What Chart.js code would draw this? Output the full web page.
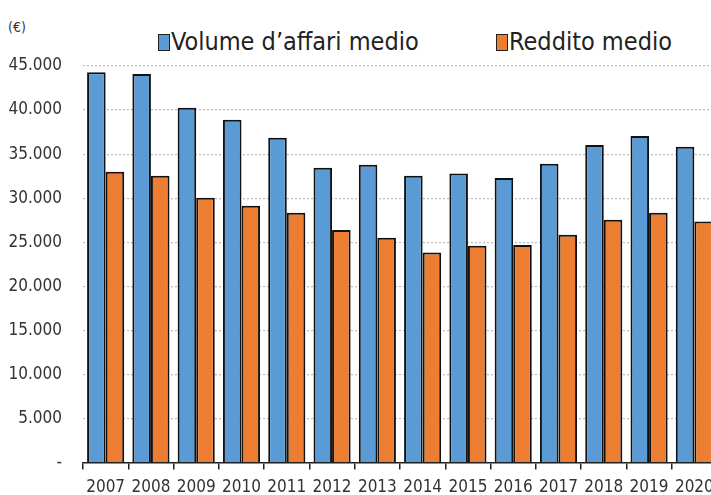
<!DOCTYPE html>
<html>
<head>
<meta charset="utf-8">
<script src="https://cdn.jsdelivr.net/npm/chart.js@4"></script>
<style>
  html, body { margin: 0; padding: 0; background: #fff; overflow: hidden; }
  body { width: 711px; height: 495px; position: relative; font-family: "DejaVu Sans Condensed", "DejaVu Sans", sans-serif; }
  #wrap { position: absolute; left: 0; top: 0; width: 724px; height: 506px; }
  .unit { position: absolute; left: 8px; top: 19px; font-size: 14px; color: #333; }
  .legend { position: absolute; top: 27px; font-size: 25px; color: #222; white-space: nowrap; }
  .legend i { display: inline-block; width: 10px; height: 15px; border: 1.5px solid #222; margin-right: 1px; vertical-align: -1px; }
</style>
</head>
<body>
<div class="unit">(€)</div>
<div class="legend" style="left:158px"><i style="background:#5B9BD5"></i>Volume d’affari medio</div>
<div class="legend" style="left:496px"><i style="background:#ED7D31"></i>Reddito medio</div>
<div id="wrap"><canvas id="myChart"></canvas></div>
<script>
const years = ['2007', '2008', '2009', '2010', '2011', '2012', '2013', '2014', '2015', '2016', '2017', '2018', '2019', '2020'];
const volumeMedio = [44300, 44100, 40250, 38900, 36850, 33450, 33800, 32550, 32800, 32300, 33900, 36050, 37050, 35850];
const redditoMedio = [33000, 32550, 30050, 29150, 28350, 26400, 25500, 23850, 24600, 24700, 25850, 27550, 28350, 27350];
const yTicks = [0, 5000, 10000, 15000, 20000, 25000, 30000, 35000, 40000, 45000];

const fmt = v => v === 0 ? '-' : v.toLocaleString('de-DE');
const tickFont = { family: '"DejaVu Sans Condensed", "DejaVu Sans", sans-serif', size: 17 };

const ctx = document.getElementById('myChart').getContext('2d');
const myChart = new Chart(ctx, {
    type: 'bar',
    data: {
        labels: years,
        datasets: [{
            label: 'Volume d’affari medio',
            data: volumeMedio,
            backgroundColor: '#5B9BD5',
            borderColor: '#111',
            borderWidth: 2,
            borderSkipped: 'bottom'
        }, {
            label: 'Reddito medio',
            data: redditoMedio,
            backgroundColor: '#ED7D31',
            borderColor: '#111',
            borderWidth: 2,
            borderSkipped: 'bottom'
        }]
    },
    options: {
        responsive: true,
        maintainAspectRatio: false,
        animation: false,
        datasets: { bar: { categoryPercentage: 0.82, barPercentage: 1 } },
        layout: { padding: { top: 66, right: 7, left: 0, bottom: 0 } },
        plugins: {
            legend: { display: false },
            tooltip: { enabled: false }
        },
        scales: {
            x: {
                offset: true,
                grid: {
                    offset: true,
                    drawOnChartArea: false,
                    drawTicks: true,
                    tickLength: 7,
                    color: '#222',
                    lineWidth: 1.5
                },
                border: { display: true, color: '#222', width: 1.5 },
                ticks: {
                    color: '#333',
                    padding: 8,
                    font: tickFont,
                    maxRotation: 0,
                    autoSkip: false
                }
            },
            y: {
                min: 0,
                max: 45000,
                afterBuildTicks: axis => { axis.ticks = yTicks.map(v => ({ value: v })); },
                afterFit: axis => { axis.width = 83; },
                grid: {
                    color: '#bbb',
                    drawTicks: false,
                    lineWidth: 1.2
                },
                border: { display: false, dash: [2, 2] },
                ticks: {
                    color: '#333',
                    padding: 21,
                    font: tickFont,
                    callback: v => fmt(v)
                }
            }
        }
    }
});
</script>
</body>
</html>
